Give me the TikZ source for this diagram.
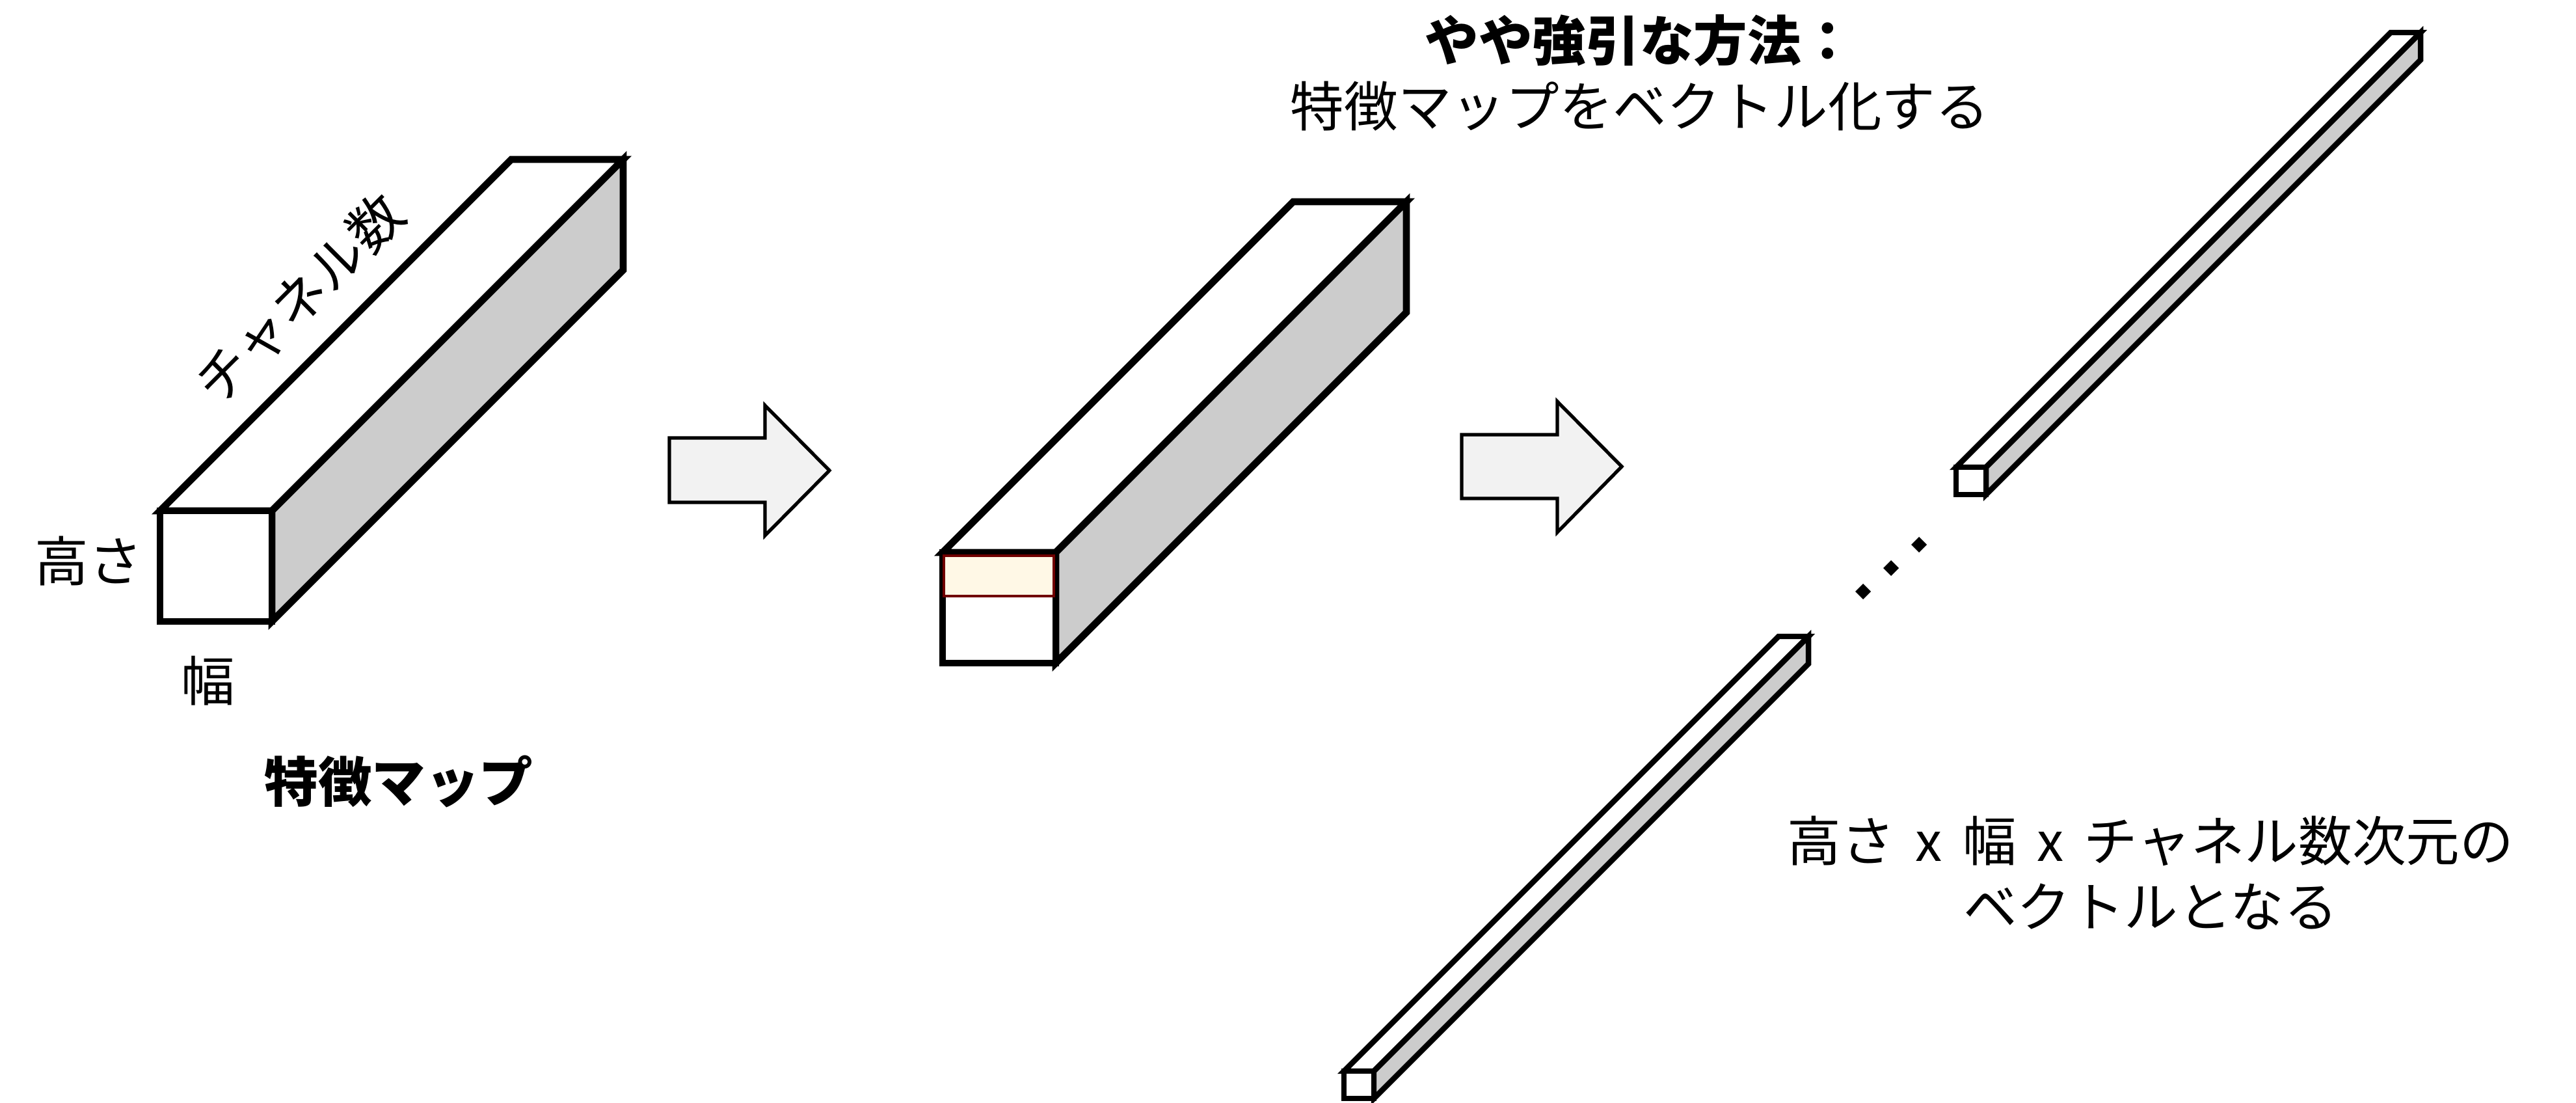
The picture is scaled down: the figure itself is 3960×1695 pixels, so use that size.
\documentclass[tikz,border=0pt]{standalone}
\usepackage{fontspec}
\setmainfont{Noto Sans CJK JP}
\usepackage{tikz}
\usetikzlibrary{calc}

\definecolor{sidegray}{HTML}{CCCCCC}
\definecolor{arrowgray}{HTML}{F2F2F2}
\definecolor{hlred}{HTML}{700000}
\definecolor{hlcream}{HTML}{FFF8E6}

\tikzset{
  edge/.style={line width=3.1pt, color=black},
  baredge/.style={line width=2.4pt, color=black},
  blockarrow/.style={line width=1.5pt, color=black, fill=arrowgray},
  label/.style={inner sep=0pt, font=\fontsize{23.5}{28.7}\selectfont},
}

\begin{document}
\begin{tikzpicture}[x=0.01cm, y=-0.01cm, z={(-0.01cm,-0.01cm)}]
\useasboundingbox (0,0) rectangle (3960,1695);

% feature map
\coordinate (A1) at (246,785,0);
\coordinate (B1) at (418,785,0);
\coordinate (C1) at (418,955,0);
\coordinate (D1) at (246,955,0);
\coordinate (E1) at (246,785,-540);
\coordinate (F1) at (418,785,-540);
\coordinate (G1) at (418,955,-540);
  \draw[edge, fill=white] (A1) -- (B1) -- (F1) -- (E1) -- cycle;
  \draw[edge, fill=sidegray] (B1) -- (C1) -- (G1) -- (F1) -- cycle;
  \draw[edge, fill=white] (A1) -- (B1) -- (C1) -- (D1) -- cycle;

  \node[label, rotate=45] (chan) at (460,459) {チャネル数};
  \node[label] (height) at (136,862) {高さ};
  \node[label] (width) at (320,1046) {幅};
  \node[label] (fmap) at (613,1201) {\textbf{特徴マップ}};

% arrow 1
  \draw[blockarrow] (1029,673) -- (1176,673) -- (1176,623) -- (1275,723)
     -- (1176,823) -- (1176,772) -- (1029,772) -- cycle;

% feature map with one row picked out
\coordinate (A2) at (1449,849,0);
\coordinate (B2) at (1623,849,0);
\coordinate (C2) at (1623,1019,0);
\coordinate (D2) at (1449,1019,0);
\coordinate (E2) at (1449,849,-539);
\coordinate (F2) at (1623,849,-539);
\coordinate (G2) at (1623,1019,-539);
  \draw[edge, fill=white] (A2) -- (B2) -- (F2) -- (E2) -- cycle;
  \draw[edge, fill=sidegray] (B2) -- (C2) -- (G2) -- (F2) -- cycle;
  \draw[edge, fill=white] (A2) -- (B2) -- (C2) -- (D2) -- cycle;
  \draw[line width=1.4pt, color=hlred, fill=hlcream] (1451,854) rectangle (1620,916);

% arrow 2
  \draw[blockarrow] (2247,668) -- (2394,668) -- (2394,617) -- (2493,717)
     -- (2394,818) -- (2394,766) -- (2247,766) -- cycle;

% vector (upper)
\coordinate (A3) at (3007,718,0);
\coordinate (B3) at (3053,718,0);
\coordinate (C3) at (3053,760,0);
\coordinate (D3) at (3007,760,0);
\coordinate (E3) at (3007,718,-668);
\coordinate (F3) at (3053,718,-668);
\coordinate (G3) at (3053,760,-668);
  \draw[baredge, fill=white] (A3) -- (B3) -- (F3) -- (E3) -- cycle;
  \draw[baredge, fill=sidegray] (B3) -- (C3) -- (G3) -- (F3) -- cycle;
  \draw[baredge, fill=white] (A3) -- (B3) -- (C3) -- (D3) -- cycle;

% vector (lower)
\coordinate (A4) at (2066,1646,0);
\coordinate (B4) at (2112,1646,0);
\coordinate (C4) at (2112,1688,0);
\coordinate (D4) at (2066,1688,0);
\coordinate (E4) at (2066,1646,-668);
\coordinate (F4) at (2112,1646,-668);
\coordinate (G4) at (2112,1688,-668);
  \draw[baredge, fill=white] (A4) -- (B4) -- (F4) -- (E4) -- cycle;
  \draw[baredge, fill=sidegray] (B4) -- (C4) -- (G4) -- (F4) -- cycle;
  \draw[baredge, fill=white] (A4) -- (B4) -- (C4) -- (D4) -- cycle;

% dots
  \fill (2950,825) -- (2962,837) -- (2950,849) -- (2938,837) -- cycle;
  \fill (2907,861) -- (2919,873) -- (2907,885) -- (2895,873) -- cycle;
  \fill (2864,897) -- (2876,909) -- (2864,921) -- (2852,909) -- cycle;

  \node[label, align=center] (title) at (2521,112)
     {\textbf{やや強引な方法：}\\特徴マップをベクトル化する};
  \node[label, align=center] (result) at (3306,1341)
     {高さ\hspace{0.38em}x\hspace{0.38em}幅\hspace{0.38em}x\hspace{0.38em}チャネル数次元の\\ベクトルとなる};
\end{tikzpicture}
\end{document}
